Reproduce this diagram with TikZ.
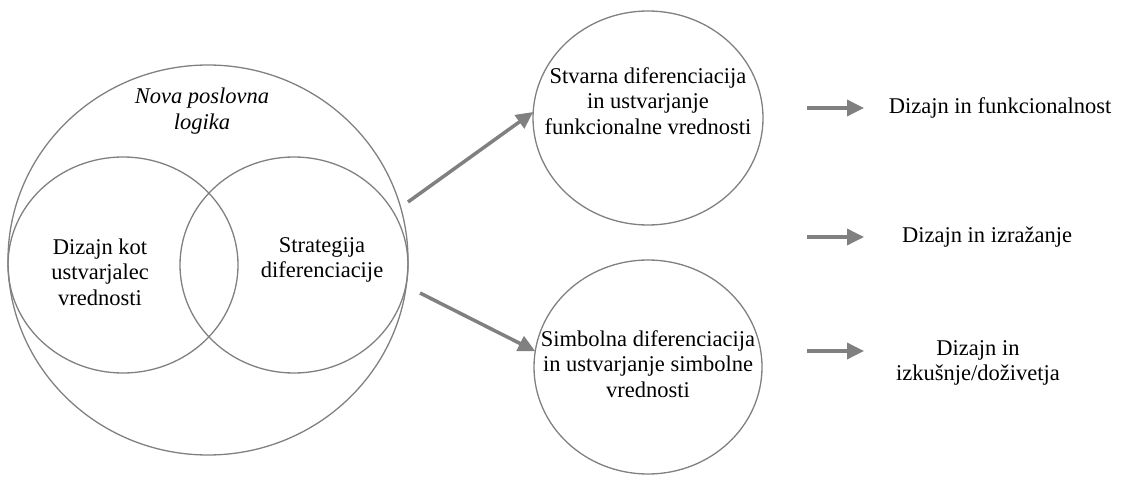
\documentclass[tikz,border=0pt]{standalone}
\usepackage{fontspec}
\setmainfont{Liberation Serif}
\usetikzlibrary{shapes.geometric,arrows.meta}
\definecolor{linegray}{RGB}{128,128,128}
\definecolor{arrowgray}{RGB}{128,128,128}
\begin{document}
\begin{tikzpicture}[x=1pt,y=1pt,
  ring/.style={draw=linegray, line width=1.3pt, ellipse, inner sep=0pt, outer sep=0pt},
  txt/.style={font=\fontsize{22.5}{25.5}\selectfont, align=center, inner sep=0pt},
  flow/.style={draw=arrowgray, line width=3.5pt, -{Triangle[length=17pt,width=16pt]}},
]
\useasboundingbox (0,0) rectangle (1129,477);

% Venn group inside the outer circle
\node[ring, minimum width=400pt, minimum height=390pt] (outer) at (208,217) {};
\node[ring, minimum width=230pt, minimum height=216pt] (vl) at (123,212) {};
\node[ring, minimum width=228pt, minimum height=216pt] (vr) at (294,212) {};
\node[txt, font=\fontsize{22.5}{25.5}\selectfont\itshape] (logic) at (202,366) {Nova poslovna\\logika};
\node[txt] (design) at (100,205) {Dizajn kot\\ustvarjalec\\vrednosti};
\node[txt] (strategy) at (322,217) {Strategija\\diferenciacije};

% Two kinds of differentiation
\node[ring, minimum width=230pt, minimum height=214pt] (real) at (648,359) {};
\node[ring, minimum width=228pt, minimum height=214pt] (symb) at (648,110) {};
\node[txt] (realtxt) at (648,376) {Stvarna diferenciacija\\in ustvarjanje\\funkcionalne vrednosti};
\node[txt] (symbtxt) at (648,113) {Simbolna diferenciacija\\in ustvarjanje simbolne\\vrednosti};

\coordinate (fromTop) at (408,275);
\coordinate (fromBot) at (420,184);
\draw[flow] (fromTop) -- (real.177);
\draw[flow] (fromBot) -- (symb.172);

% Design outcomes
\node[txt] (func) at (1000,369) {Dizajn in funkcionalnost};
\node[txt] (expr) at (987,240) {Dizajn in izražanje};
\node[txt] (exp) at (978,114) {Dizajn in\\izkušnje/doživetja};

\coordinate (f0) at (807,369); \coordinate (f1) at (864,369);
\coordinate (e0) at (807,240); \coordinate (e1) at (864,240);
\coordinate (x0) at (807,126); \coordinate (x1) at (864,126);
\draw[flow] (f0) -- (f1);
\draw[flow] (e0) -- (e1);
\draw[flow] (x0) -- (x1);
\end{tikzpicture}
\end{document}
